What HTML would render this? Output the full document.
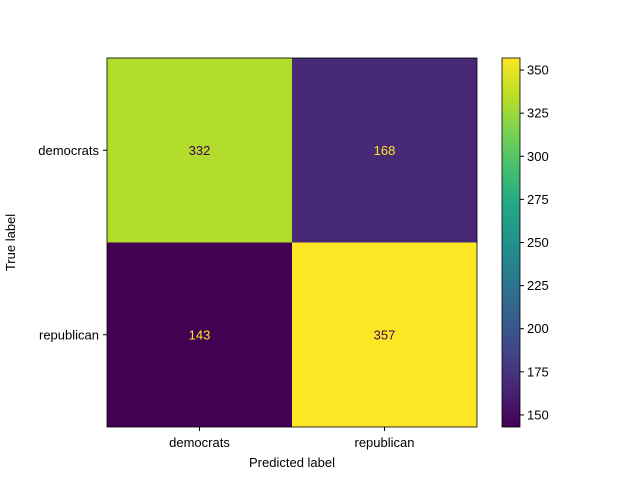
<!DOCTYPE html>
<html><head><meta charset="utf-8"><style>body{margin:0;background:#fff}svg{display:block}text{font-family:"Liberation Sans","DejaVu Sans",sans-serif;font-size:13px;fill:#000}</style></head>
<body>
<svg id="c" width="640" height="480">
<defs><linearGradient id="vir" x1="0" y1="1" x2="0" y2="0">
<stop offset="0" stop-color="#440154"/><stop offset="0.1" stop-color="#482475"/><stop offset="0.2" stop-color="#414487"/><stop offset="0.3" stop-color="#355f8d"/><stop offset="0.4" stop-color="#2a788e"/><stop offset="0.5" stop-color="#21918c"/><stop offset="0.6" stop-color="#22a884"/><stop offset="0.7" stop-color="#44bf70"/><stop offset="0.8" stop-color="#7ad151"/><stop offset="0.9" stop-color="#bddf26"/><stop offset="1" stop-color="#fde725"/></linearGradient></defs>
</svg>
<script>
const labels=["democrats","republican"];
const values=[[332,168],[143,357]];
const cbTicks=[150,175,200,225,250,275,300,325,350];
const svg=document.getElementById('c');const NS="http://www.w3.org/2000/svg";
function mk(t,a,p){const e=document.createElementNS(NS,t);for(const k in a)e.setAttribute(k,a[k]);(p||svg).appendChild(e);return e;}
const L=107,T=58,W=370,H=369;const n=labels.length,cw=W/n,ch=H/n;
const flat=values.flat();const vmin=Math.min(...flat),vmax=Math.max(...flat);
const stops=[[68,1,84],[72,36,117],[65,68,135],[53,95,141],[42,120,142],[33,145,140],[34,168,132],[68,191,112],[122,209,81],[189,223,38],[253,231,37]];
function vir(t){t=Math.max(0,Math.min(1,t))*10;const i=Math.min(9,Math.floor(t)),f=t-i;const a=stops[i],b=stops[i+1];return `rgb(${a.map((v,k)=>Math.round(v+(b[k]-v)*f)).join(',')})`;}
const cx=i=>L+cw*(i+0.5),cy=i=>T+ch*(i+0.5);
values.forEach((row,r)=>row.forEach((v,c)=>{const t=(v-vmin)/(vmax-vmin);
const rc=mk('rect',{x:L+c*cw,y:T+r*ch,width:cw,height:ch,fill:vir(t)});


const tx=mk('text',{x:cx(c),y:cy(r)+4.5,'text-anchor':'middle',style:'fill:'+(t<0.5?'#fde725':'#440154')});tx.textContent=v;

}));
mk('rect',{x:L,y:T,width:W,height:H,fill:'none',stroke:'#000','stroke-width':0.8});
labels.forEach((lb,i)=>{mk('line',{x1:cx(i),x2:cx(i),y1:T+H,y2:T+H+4,stroke:'#000'});
const a=mk('text',{x:cx(i),y:T+H+20,'text-anchor':'middle'});a.textContent=lb;


mk('line',{x1:L-4,x2:L,y1:cy(i),y2:cy(i),stroke:'#000'});
const b=mk('text',{x:L-8,y:cy(i)+4.5,'text-anchor':'end'});b.textContent=lb;

});
const xt=mk('text',{x:L+W/2,y:467,'text-anchor':'middle'});xt.textContent='Predicted label';


const yt=mk('text',{x:15,y:T+H/2,'text-anchor':'middle',transform:`rotate(-90 15 ${T+H/2})`});yt.textContent='True label';


const CX=502,CW=18;const cyv=v=>T+H-(v-vmin)/(vmax-vmin)*H;
const cb=mk('rect',{x:CX,y:T,width:CW,height:H,fill:'url(#vir)',stroke:'#000','stroke-width':0.8});


cbTicks.forEach(v=>{mk('line',{x1:CX+CW,x2:CX+CW+4,y1:cyv(v),y2:cyv(v),stroke:'#000'});
const t=mk('text',{x:CX+CW+7,y:cyv(v)+4.5});t.textContent=v;

});
</script>
</body></html>
